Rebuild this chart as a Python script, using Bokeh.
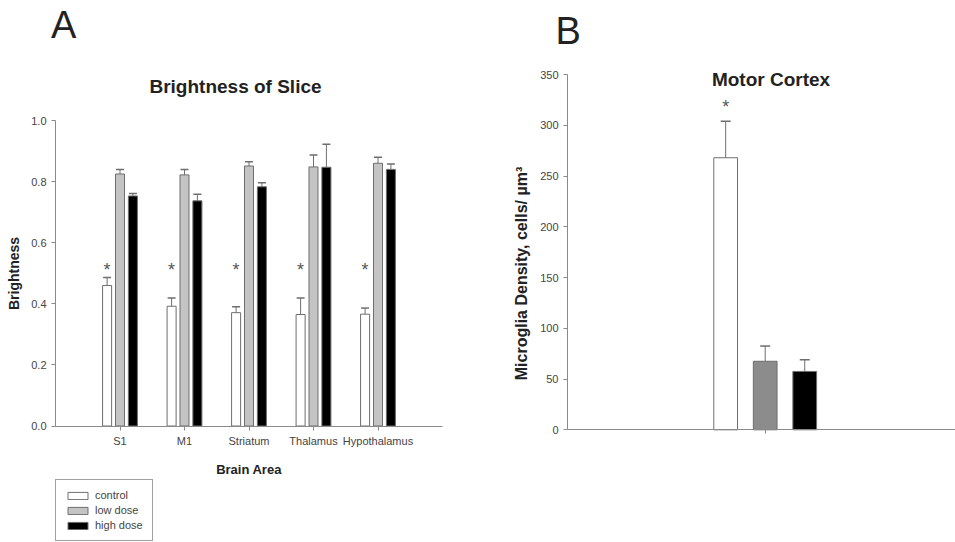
import numpy as np
from math import pi
from bokeh.plotting import figure
from bokeh.models import (Range1d, FixedTicker, ColumnDataSource, Whisker, TeeHead,
                          Legend, LegendItem, Label, NumeralTickFormatter)
from bokeh.layouts import row
from bokeh.core.properties import value
from bokeh.embed import file_html
from bokeh.resources import INLINE

# ---------------- data ----------------
areas = ["S1", "M1", "Striatum", "Thalamus", "Hypothalamus"]
control = [0.460, 0.392, 0.371, 0.365, 0.366]
control_err = [0.026, 0.027, 0.019, 0.054, 0.020]
low_dose = [0.825, 0.822, 0.851, 0.848, 0.860]
low_dose_err = [0.015, 0.018, 0.014, 0.039, 0.020]
high_dose = [0.753, 0.737, 0.783, 0.847, 0.840]
high_dose_err = [0.008, 0.022, 0.013, 0.075, 0.018]
sig_marks_a = ["*", "*", "*", "*", "*"]   # control significantly different
sig_y_a = [0.511, 0.511, 0.511, 0.511, 0.511]

groups = ["control", "low dose", "high dose"]
mc_values = [268.0, 67.5, 57.5]
mc_err = [36.0, 15.0, 11.5]
sig_y_b = 318.0

FONT = "Liberation Sans"
fills_a = ["#ffffff", "#c4c4c4", "#000000"]
fills_b = ["#ffffff", "#8c8c8c", "#000000"]
OUT = "#6e6e6e"
AX = "#8a8a8a"
TXT = "#444444"
HEAD = "#222222"

H = 542
WA, WB = 480, 475
# layout geometry (pixels): where the axes' origins sit and px per data unit
A_X0, A_XS, A_Y0, A_YS = 55.0, 64.5, 425.5, 305.5
B_X0, B_XS, B_Y0, B_YS = 87.0, 197.7, 429.3, 355.3 / 350.0


def style_axes(p):
    for ax in (p.xaxis[0], p.yaxis[0]):
        ax.axis_line_color = AX
        ax.major_tick_line_color = AX
        ax.minor_tick_line_color = None
        ax.major_tick_out = 4
        ax.major_tick_in = 0
        ax.major_label_text_font = FONT
        ax.major_label_text_font_size = "11px"
        ax.major_label_text_color = TXT
        ax.axis_label_text_font = FONT
        ax.axis_label_text_font_style = "bold"
        ax.axis_label_text_color = HEAD
    p.xaxis.fixed_location = 0
    p.yaxis.fixed_location = 0
    p.xgrid.visible = False
    p.ygrid.visible = False
    p.outline_line_color = None


def make_fig(w, x0, xs, y0, ys):
    return figure(width=w, height=H, output_backend="svg", toolbar_location=None,
                  x_range=Range1d(-x0 / xs, (w - x0) / xs),
                  y_range=Range1d(-(H - y0) / ys, y0 / ys),
                  min_border=0, tools="", background_fill_color="white",
                  border_fill_color="white")


# ---------------- panel A ----------------
pa = make_fig(WA, A_X0, A_XS, A_Y0, A_YS)
ax_ = lambda px: (px - A_X0) / A_XS
ay_ = lambda py: (A_Y0 - py) / A_YS

idx = np.arange(1, len(areas) + 1)
offs = [-0.2, 0.0, 0.2]
series_a = [(control, control_err), (low_dose, low_dose_err), (high_dose, high_dose_err)]
renderers = []
for (vals, errs), off, col in zip(series_a, offs, fills_a):
    src = ColumnDataSource(dict(x=idx + off, top=vals,
                                up=np.array(vals) + np.array(errs)))
    r = pa.vbar(x="x", top="top", width=0.14, source=src, fill_color=col,
                line_color=OUT, line_width=1)
    renderers.append(r)
    pa.add_layout(Whisker(base="x", lower="top", upper="up", source=src,
                          line_color=OUT, line_width=1,
                          upper_head=TeeHead(size=8, line_color=OUT, line_width=1.5),
                          lower_head=None))
pa.text(x=idx + offs[0], y=sig_y_a, text=sig_marks_a, text_font=value(FONT),
        text_font_size="18px", text_color="#555555", text_align="center",
        text_baseline="middle")

style_axes(pa)
pa.xaxis.ticker = FixedTicker(ticks=list(idx))
pa.xaxis.major_label_overrides = {int(i): a for i, a in zip(idx, areas)}
pa.xaxis.bounds = (0, len(areas) + 1)
pa.yaxis.ticker = FixedTicker(ticks=[0, 0.2, 0.4, 0.6, 0.8, 1.0])
pa.yaxis.formatter = NumeralTickFormatter(format="0.0")
pa.yaxis.bounds = (0, 1.0)
pa.xaxis.axis_label = "Brain Area"
pa.yaxis.axis_label = "Brightness"
pa.xaxis.axis_label_text_font_size = "13px"
pa.yaxis.axis_label_text_font_size = "14px"
pa.xaxis.major_label_standoff = 5
pa.xaxis.axis_label_standoff = 11
pa.yaxis.major_label_standoff = 5
pa.yaxis.axis_label_standoff = 6

pa.add_layout(Label(x=ax_(50.5), y=ay_(24), text="A", text_font=FONT,
                    text_font_size="38px", text_color=HEAD,
                    text_align="left", text_baseline="middle"))
pa.add_layout(Label(x=ax_(235), y=ay_(86), text="Brightness of Slice", text_font=FONT,
                    text_font_size="19px", text_font_style="bold",
                    text_color=HEAD, text_align="center", text_baseline="middle"))

legend = Legend(items=[LegendItem(label=g, renderers=[r]) for g, r in zip(groups, renderers)],
                location=(55, 1), orientation="vertical",
                border_line_color="#444444", border_line_width=1,
                padding=9, spacing=3, margin=0, glyph_width=25, glyph_height=9,
                label_text_font=FONT, label_text_font_size="11px",
                label_text_color=TXT, label_standoff=5, label_height=9,
                background_fill_color="#ffffff", background_fill_alpha=1.0)
pa.add_layout(legend, "center")

# ---------------- panel B ----------------
pb = make_fig(WB, B_X0, B_XS, B_Y0, B_YS)
bx_ = lambda px: (px - 480 - B_X0) / B_XS
by_ = lambda py: (B_Y0 - py) / B_YS

xb = 1 + np.array(offs)
src_b = ColumnDataSource(dict(x=xb, top=mc_values, up=np.array(mc_values) + np.array(mc_err),
                              color=fills_b))
pb.vbar(x="x", top="top", width=0.12, source=src_b, fill_color="color",
        line_color=OUT, line_width=1)
pb.add_layout(Whisker(base="x", lower="top", upper="up", source=src_b,
                      line_color=OUT, line_width=1,
                      upper_head=TeeHead(size=10, line_color=OUT, line_width=1.5),
                      lower_head=None))
pb.text(x=[xb[0]], y=[sig_y_b], text=["*"], text_font=value(FONT),
        text_font_size="18px", text_color="#555555", text_align="center",
        text_baseline="middle")

style_axes(pb)
pb.xaxis.ticker = FixedTicker(ticks=[1])
pb.xaxis.major_label_overrides = {1: ""}
pb.xaxis.bounds = (0, (WB - B_X0) / B_XS)
pb.yaxis.ticker = FixedTicker(ticks=list(range(0, 351, 50)))
pb.yaxis.bounds = (0, 350)
pb.yaxis.major_label_standoff = 5

pb.add_layout(Label(x=bx_(521), y=by_(273), angle=pi / 2,
                    text="Microglia Density, cells/ \u00b5m\u00b3", text_font=FONT,
                    text_font_size="16px", text_font_style="bold", text_color=HEAD,
                    text_align="center", text_baseline="middle"))
pb.add_layout(Label(x=bx_(555), y=by_(30.5), text="B", text_font=FONT,
                    text_font_size="38px", text_color=HEAD,
                    text_align="left", text_baseline="middle"))
pb.add_layout(Label(x=bx_(770.5), y=by_(79), text="Motor Cortex", text_font=FONT,
                    text_font_size="19px", text_font_style="bold",
                    text_color=HEAD, text_align="center", text_baseline="middle"))

layout = row(pa, pb)
open("out.html", "w").write(file_html(layout, INLINE))
